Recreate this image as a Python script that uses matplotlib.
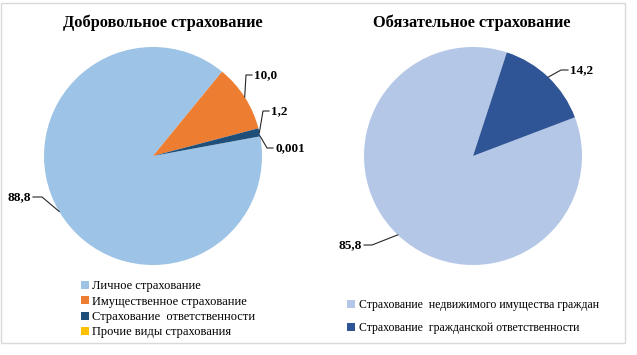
import math
import matplotlib
matplotlib.use('Agg')
import matplotlib.pyplot as plt
from matplotlib.patches import Rectangle

plt.rcParams['font.family'] = ['Liberation Serif', 'DejaVu Serif']

# Добровольное страхование
vol_title = 'Добровольное страхование'
vol_labels = ['Личное страхование', 'Имущественное страхование',
              'Страхование  ответственности', 'Прочие виды страхования']
vol_values = [88.8, 10.0, 1.2, 0.001]
vol_text = ['88,8', '10,0', '1,2', '0,001']
vol_colors = ['#9DC3E6', '#ED7D31', '#1F4E79', '#FFC000']

# Обязательное страхование
obl_title = 'Обязательное страхование'
obl_labels = ['Страхование  недвижимого имущества граждан',
              'Страхование  гражданской ответственности']
obl_values = [85.8, 14.2]
obl_text = ['85,8', '14,2']
obl_colors = ['#B4C7E7', '#2F5597']

W, H = 637, 355
fig = plt.figure(figsize=(W / 100, H / 100), dpi=100)
ax = fig.add_axes([0, 0, 1, 1])
ax.set_xlim(0, W)
ax.set_ylim(0, H)
ax.axis('off')

# рамка области диаграммы
ax.add_patch(Rectangle((1, H - 343), 624, 340, fill=False, edgecolor='#D9D9D9', lw=1))


def draw_pie(cx, cy, r, values, colors, start, texts, leaders):
    wedges, _ = ax.pie(values, colors=colors, startangle=start, counterclock=False,
                       center=(cx, H - cy), radius=r, frame=True,
                       wedgeprops=dict(linewidth=0))
    for w, t, ld in zip(wedges, texts, leaders):
        if ld is None:
            continue
        mid = math.radians((w.theta1 + w.theta2) / 2)
        x0 = cx + r * math.cos(mid)
        y0 = H - cy + r * math.sin(mid)
        (kx, ky), (ex, ey), ha = ld
        ax.plot([x0, kx, ex], [y0, H - ky, H - ey], color='#262626', lw=0.8)
        tx = ex + (2 if ha == 'left' else -2)
        ax.text(tx, H - ey, t, ha=ha, va='center', fontsize=9.5,
                fontweight='bold', color='black')
    return wedges


vol_leaders = [((42, 197), (33, 197), 'right'),
               ((246, 75), (252, 75), 'left'),
               ((263, 111), (269, 111), 'left'),
               ((267, 148), (273, 148), 'left')]
w1 = draw_pie(153, 156, 109, vol_values, vol_colors, 10.4, vol_text, vol_leaders)

obl_leaders = [((372, 245), (364, 245), 'right'),
               ((561, 70), (568, 70), 'left')]
w2 = draw_pie(473, 156, 109, obl_values, obl_colors, 20.8, obl_text, obl_leaders)

ax.set_xlim(0, W)
ax.set_ylim(0, H)
ax.set_aspect('equal')

ax.text(163, H - 23, vol_title, ha='center', va='center', fontsize=11.8,
        fontweight='bold')
ax.text(472, H - 23, obl_title, ha='center', va='center', fontsize=11.8,
        fontweight='bold')

fig.legend(w1, vol_labels, loc='upper left', bbox_to_anchor=(81 / W, 1 - 280 / H),
           frameon=False, fontsize=9, handlelength=0.6, handleheight=0.6,
           handletextpad=0.3, labelspacing=0.28, borderpad=0, borderaxespad=0)
fig.legend(w2, obl_labels, loc='upper left', bbox_to_anchor=(347 / W, 1 - 299 / H),
           frameon=False, fontsize=8.5, handlelength=0.65, handleheight=0.65,
           handletextpad=0.35, labelspacing=0.95, borderpad=0, borderaxespad=0)

fig.savefig('out.png', dpi=100, facecolor='white')
